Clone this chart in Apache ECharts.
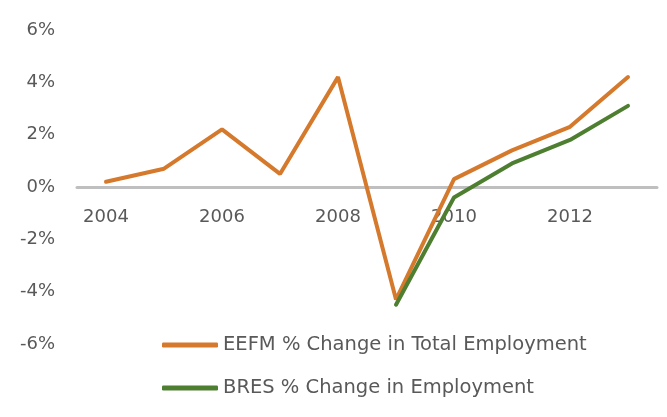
<!DOCTYPE html>
<html><head><meta charset="utf-8">
<script src="https://cdn.jsdelivr.net/npm/echarts@6/dist/echarts.min.js"></script>
<style>html,body{margin:0;padding:0;background:#fff}#c{width:667px;height:417px}</style>
</head><body><div id="c"></div>
<script>
const years = ['2004','2005','2006','2007','2008','2009','2010','2011','2012','2013'];
const eefm = [0.2, 0.7, 2.2, 0.5, 4.2, -4.3, 0.3, 1.4, 2.3, 4.2];
const bres = [null, null, null, null, null, -4.5, -0.4, 0.9, 1.8, 3.1];
const yTicks = [-6, -4, -2, 0, 2, 4, 6];
const seriesNames = ['EEFM % Change in Total Employment', 'BRES % Change in Employment'];

const font = "'DejaVu Sans', sans-serif";
const gridTop = 30, gridBottom = 73, H = 417;
const plotH = H - gridTop - gridBottom;
// offset of x-axis labels so that they sit just under the zero line
const zeroOffset = -plotH * (0 - yTicks[0]) / (yTicks[yTicks.length-1] - yTicks[0]);
const chart = echarts.init(document.getElementById('c'));
chart.setOption({
  animation: false,
  grid: {left: 77, right: 10, top: gridTop, bottom: gridBottom},
  xAxis: {
    type: 'category', data: years, boundaryGap: true,
    position: 'bottom', offset: zeroOffset,
    axisLine: {onZero: false, lineStyle: {color: '#BFBFBF', width: 3}},
    axisTick: {show: false},
    axisLabel: {interval: 1, color: '#595959', fontSize: 18, fontFamily: font, margin: 21}
  },
  yAxis: {
    type: 'value', min: yTicks[0], max: yTicks[yTicks.length-1], interval: 2,
    splitLine: {show: false}, axisLine: {show: false}, axisTick: {show: false},
    axisLabel: {formatter: v => v + '%', color: '#595959', fontSize: 18, fontFamily: font, margin: 22}
  },
  legend: {
    orient: 'vertical', left: 162, top: 335, itemGap: 23, padding: 0,
    itemWidth: 56, itemHeight: 5, icon: 'roundRect', itemStyle: {borderWidth: 0},
    textStyle: {color: '#595959', fontSize: 19.5, fontFamily: font},
    data: seriesNames
  },
  series: [
    {name: seriesNames[0], type: 'line', data: eefm, symbol: 'none',
     lineStyle: {color: '#D5792C', width: 4, cap: 'round'}, itemStyle: {color: '#D5792C'}},
    {name: seriesNames[1], type: 'line', data: bres, symbol: 'none',
     lineStyle: {color: '#4E7F31', width: 4, cap: 'round'}, itemStyle: {color: '#4E7F31'}}
  ]
});
</script></body></html>
